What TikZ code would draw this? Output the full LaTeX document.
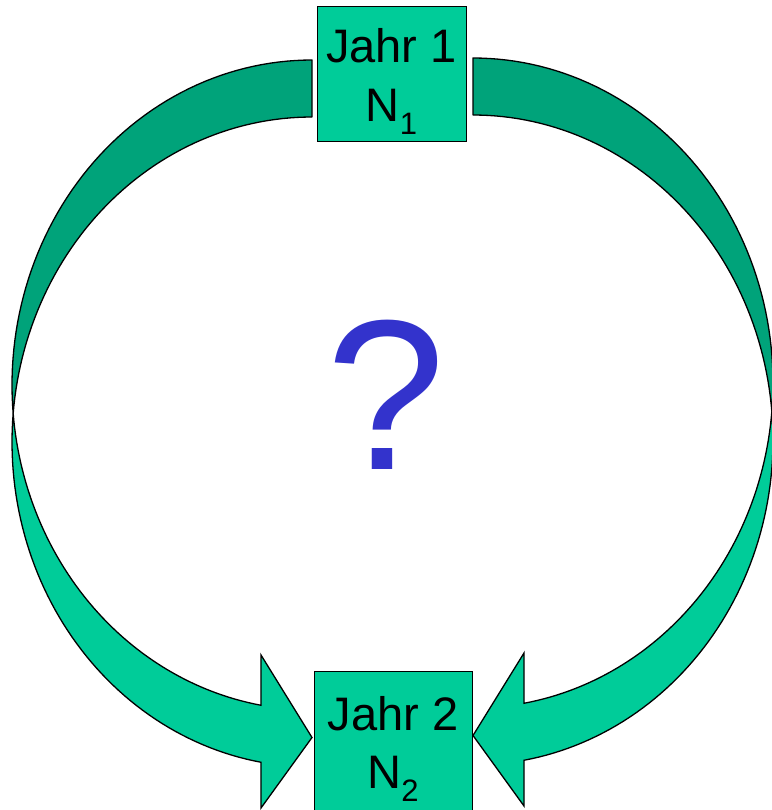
\documentclass[tikz,border=0pt]{standalone}
\usepackage{fontspec}
\setmainfont{Liberation Sans}
\definecolor{jahrgruen}{HTML}{00CC99}
\definecolor{rueckgruen}{HTML}{00A37A}
\definecolor{frageblau}{HTML}{3333CC}
\newcommand{\jahrindex}[1]{\raisebox{-13pt}{\fontsize{31}{31}\selectfont #1}}
\tikzset{
  jahrbox/.style={draw=black, line width=1pt, fill=jahrgruen, inner sep=0pt},
  jahrtext/.style={anchor=base, inner sep=0pt, font=\fontsize{47}{59}\selectfont},
  bandback/.style={draw=black, line width=1.3pt, fill=rueckgruen, line join=round},
  bandfront/.style={draw=black, line width=1.3pt, fill=jahrgruen, line join=miter},
}
\begin{document}
\begin{tikzpicture}[x=1pt,y=-1pt]
\useasboundingbox (0,0) rectangle (771,810);

% linker Pfeil
\draw[bandback] plot[domain=270:174.97,samples=60] ({312+300*cos(\x)},{385+325*sin(\x)})
  -- plot[domain=185.03:270,samples=60] ({312+300*cos(\x)},{442+325*sin(\x)}) -- cycle;
\draw[bandfront] plot[domain=174.97:99.8,samples=60] ({312+300*cos(\x)},{385+325*sin(\x)})
  -- (261,655) -- (312,737.5) -- (261,808)
  -- plot[domain=99.8:185.03,samples=60] ({312+300*cos(\x)},{442+325*sin(\x)}) -- cycle;

% rechter Pfeil
\draw[bandback] plot[domain=270:174.97,samples=60] ({473-300*cos(\x)},{383+325*sin(\x)})
  -- plot[domain=185.03:270,samples=60] ({473-300*cos(\x)},{440+325*sin(\x)}) -- cycle;
\draw[bandfront] plot[domain=174.97:99.8,samples=60] ({473-300*cos(\x)},{383+325*sin(\x)})
  -- (524,653) -- (473,735.5) -- (524,806)
  -- plot[domain=99.8:185.03,samples=60] ({473-300*cos(\x)},{440+325*sin(\x)}) -- cycle;

%-------------------------------------
\node[jahrbox, minimum width=149pt, minimum height=135pt] (jahr1) at (391.5,74.5) {};
\node[jahrtext] (jahr1a) at (391.5,63) {Jahr 1};
\node[jahrtext] (jahr1b) at (391.5,122) {N\jahrindex{1}};

\node[jahrbox, minimum width=158pt, minimum height=141pt] (jahr2) at (393,741.5) {};
\node[jahrtext] (jahr2a) at (393,730) {Jahr 2};
\node[jahrtext] (jahr2b) at (393,788) {N\jahrindex{2}};

\node[anchor=base, inner sep=0pt, text=frageblau, font=\fontsize{214}{214}\selectfont] (frage) at (386,469) {?};

\end{tikzpicture}
\end{document}
